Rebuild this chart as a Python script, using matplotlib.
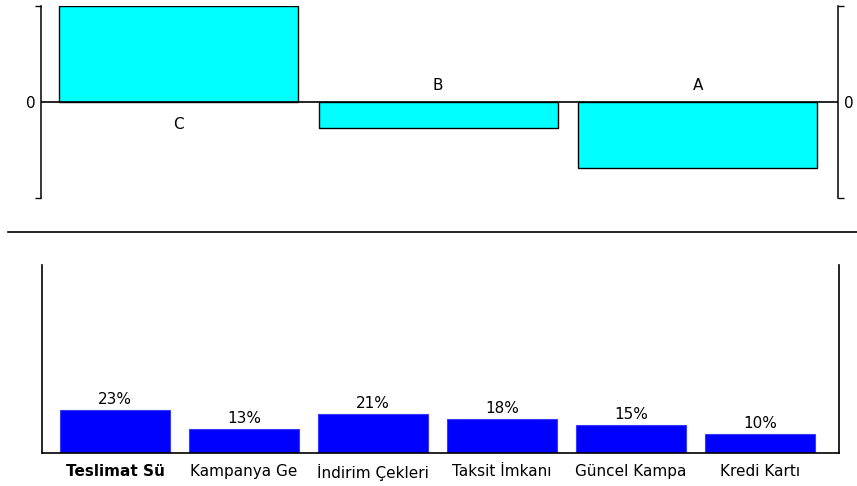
import matplotlib.pyplot as plt
from matplotlib.lines import Line2D

# ---- Top chart: signed scores per group ----
groups = ["C", "B", "A"]
scores = [1.0, -0.27, -0.69]

# ---- Bottom chart: share of answers ----
reasons = ["Teslimat Sü", "Kampanya Ge", "İndirim Çekleri",
           "Taksit İmkanı", "Güncel Kampa", "Kredi Kartı"]
shares = [23, 13, 21, 18, 15, 10]

plt.rcParams['font.family'] = 'DejaVu Sans'
FS = 11

fig = plt.figure(figsize=(8.57, 4.86), dpi=100)
W, H = 857, 486


def px_axes(left, top, right, bottom):
    return fig.add_axes([left / W, 1 - bottom / H, (right - left) / W, (bottom - top) / H])


# ---- top ----
ax1 = px_axes(41, 6, 838, 198)
x1 = range(len(groups))
ax1.bar(x1, scores, width=0.92, color='#00ffff', edgecolor='black', linewidth=1)
ax1.axhline(0, color='black', linewidth=1.2)
ax1.set_xlim(-0.53, 2.54)
ax1.set_ylim(-1, 1)
for i, (g, v) in enumerate(zip(groups, scores)):
    dy = -16.5 if v > 0 else 12
    ax1.annotate(g, (i, 0), xytext=(0, dy), textcoords='offset points',
                 ha='center', va='center', fontsize=FS)

for s in ['top', 'bottom']:
    ax1.spines[s].set_visible(False)
ax1.spines['left'].set_linewidth(1.1)
ax1.spines['right'].set_linewidth(1.1)
ax1.set_xticks([])
ax1.set_yticks([-1, 1], labels=['', ''])
ax1.set_yticks([0], labels=['0'], minor=True)
ax1.tick_params(axis='y', which='major', left=True, right=True,
                length=4, width=1.0, direction='out')
ax1.tick_params(axis='y', which='minor', left=True, right=True,
                labelleft=True, labelright=True, length=0, pad=4, labelsize=FS)

# separator
fig.add_artist(Line2D([8 / W, 1], [1 - 232 / H, 1 - 232 / H],
                      color='black', linewidth=1.2))

# ---- bottom ----
ax2 = px_axes(42, 265, 839, 453)
x2 = range(len(reasons))
ax2.bar(x2, shares, width=0.853, color='#0000ff', edgecolor='#3a3aff', linewidth=0.8)
ax2.set_xlim(-0.566, 5.612)
ax2.set_ylim(0, 100)
for i, v in enumerate(shares):
    ax2.annotate(f"{v}%", (i, v), xytext=(0, 7.5), textcoords='offset points',
                 ha='center', va='center', fontsize=FS)

ax2.spines['top'].set_visible(False)
for s in ['left', 'right', 'bottom']:
    ax2.spines[s].set_linewidth(1.2)
ax2.set_yticks([])
ax2.set_xticks(list(x2), labels=reasons)
ax2.tick_params(axis='x', length=0, pad=8, labelsize=FS)
ax2.get_xticklabels()[0].set_fontweight('bold')

fig.savefig('out.png', dpi=100)
